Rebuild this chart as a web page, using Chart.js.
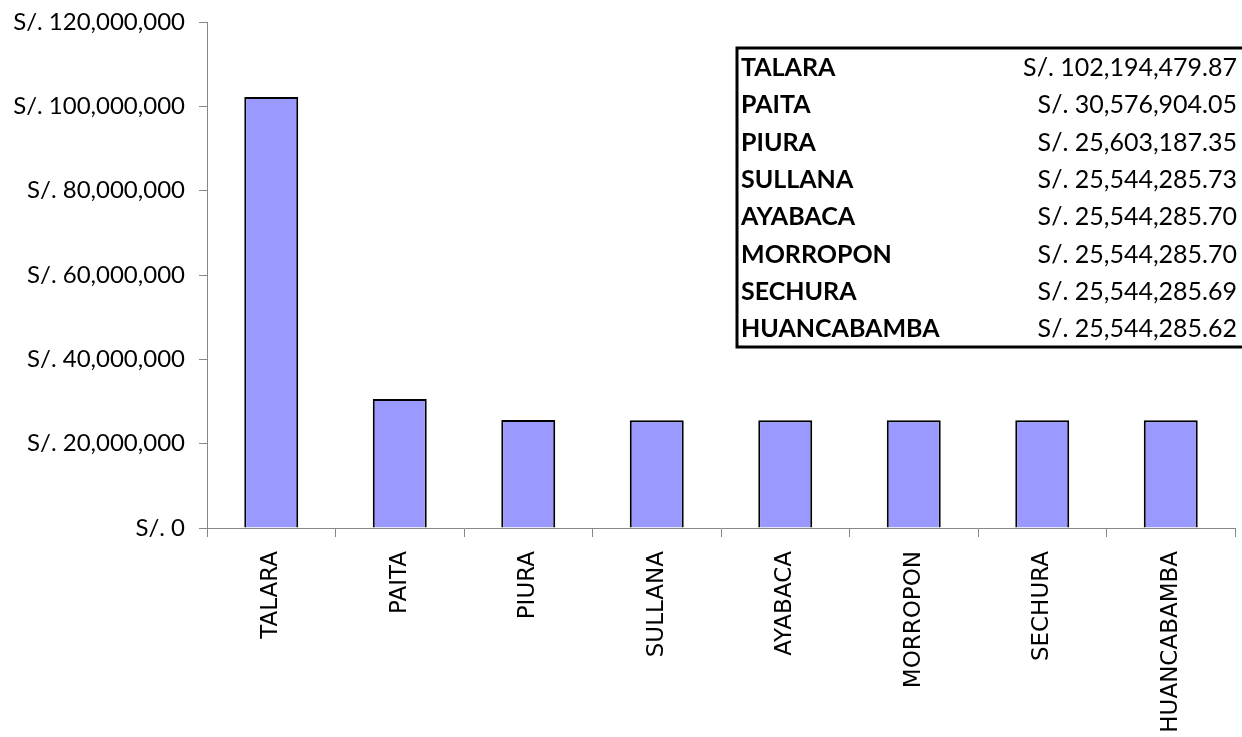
<!DOCTYPE html>
<html>
<head>
<meta charset="utf-8">
<script src="https://cdn.jsdelivr.net/npm/chart.js@4/dist/chart.umd.min.js"></script>
<style>
  html, body { margin: 0; padding: 0; background: #fff; }
  #wrap { width: 1242px; height: 737px; position: relative; }
</style>
</head>
<body>
<div id="wrap"><canvas id="chart" width="1242" height="737"></canvas></div>
<script>
const provincias = ['TALARA', 'PAITA', 'PIURA', 'SULLANA', 'AYABACA', 'MORROPON', 'SECHURA', 'HUANCABAMBA']
const montos = [102194479.87, 30576904.05, 25603187.35, 25544285.73, 25544285.70, 25544285.70, 25544285.69, 25544285.62]
const montosTexto = ['S/. 102,194,479.87', 'S/. 30,576,904.05', 'S/. 25,603,187.35', 'S/. 25,544,285.73',
    'S/. 25,544,285.70', 'S/. 25,544,285.70', 'S/. 25,544,285.69', 'S/. 25,544,285.62']

const labelFont = 'Lato, "Liberation Sans", sans-serif'

// table box drawn in the upper right corner
const tablaPlugin = {
    id: 'tabla',
    afterDraw(chart) {
        const ctx = chart.ctx
        const x0 = 737, y0 = 48, x1 = 1244, y1 = 347
        const rowH = (y1 - y0) / provincias.length
        ctx.save()
        ctx.fillStyle = '#fff'
        ctx.fillRect(x0, y0, x1 - x0, y1 - y0)
        ctx.lineWidth = 3
        ctx.strokeStyle = '#000'
        ctx.strokeRect(x0, y0, x1 - x0, y1 - y0)
        ctx.fillStyle = '#000'
        ctx.textBaseline = 'middle'
        provincias.forEach((p, i) => {
            const y = y0 + rowH * (i + 0.5) + 1
            ctx.font = 'bold 25px ' + labelFont
            ctx.textAlign = 'left'
            ctx.fillText(p, x0 + 4, y)
            ctx.font = '25px ' + labelFont
            ctx.textAlign = 'right'
            ctx.fillText(montosTexto[i], 1237, y)
        })
        ctx.restore()
    }
}

function soles(v) {
    return 'S/. ' + Math.round(v).toLocaleString('en-US')
}

new Chart(document.getElementById('chart'), {
    type: 'bar',
    data: {
        labels: provincias,
        datasets: [{
            data: montos,
            backgroundColor: '#9999FF',
            borderColor: '#000',
            borderWidth: 2,
            barPercentage: 0.42,
            categoryPercentage: 1
        }]
    },
    options: {
        responsive: false,
        animation: false,
        layout: { padding: { top: 22, right: 7, left: 0, bottom: 0 } },
        plugins: { legend: { display: false }, tooltip: { enabled: false } },
        scales: {
            x: {
                grid: { drawOnChartArea: false, tickLength: 9, color: '#888', offset: true },
                border: { color: '#888', width: 1 },
                ticks: {
                    color: '#000',
                    font: { family: '"DejaVu Sans", Verdana, sans-serif', size: 23 },
                    minRotation: 90, maxRotation: 90, padding: 14
                },
                afterFit(scale) { scale.height = 209 }
            },
            y: {
                min: 0, max: 120000000,
                grid: { drawOnChartArea: false, tickLength: 8, color: '#888' },
                border: { color: '#888', width: 1 },
                ticks: {
                    stepSize: 20000000,
                    color: '#000',
                    font: { family: labelFont, size: 24 },
                    padding: 14,
                    callback: v => soles(v)
                },
                afterFit(scale) {
                    scale.width = 207
                    scale.paddingTop = 0
                    scale.paddingBottom = 0
                }
            }
        }
    },
    plugins: [tablaPlugin]
});
</script>
</body>
</html>
